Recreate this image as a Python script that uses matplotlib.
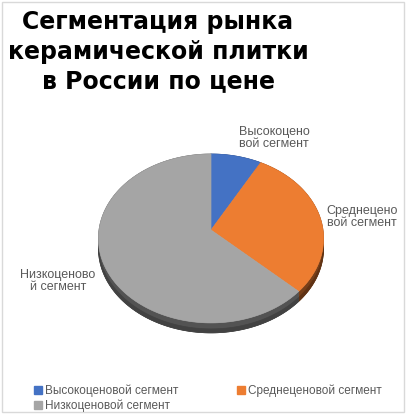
import matplotlib.pyplot as plt
import numpy as np
from matplotlib.patches import Rectangle
from matplotlib.lines import Line2D

title = "Сегментация рынка\nкерамической плитки\nв России по цене"
segments = ["Высокоценовой сегмент", "Среднеценовой сегмент", "Низкоценовой сегмент"]
slice_labels = ["Высокоцено\nвой сегмент", "Среднецено\nвой сегмент", "Низкоценово\nй сегмент"]
shares = [8, 29, 63]
colors = ["#4472c4", "#ed7d31", "#a5a5a5"]

W, H = 409, 418
fig = plt.figure(figsize=(W / 100, H / 100), dpi=100)
ax = fig.add_axes([0, 0, 1, 1])
ax.set_xlim(0, W)
ax.set_ylim(H, 0)
ax.axis("off")

# tilted pie with a bit of perspective (near side looks bigger)
cx, cy = 211, 230
rx, ry = 112, 83.6
k = 0.1
depth = 10


def project(theta):
    u, v = np.cos(theta), np.sin(theta)
    return cx + rx * u / (1 + k * v), cy - ry * v / (1 + k * v)


def shade(c, f):
    rgb = np.array(plt.matplotlib.colors.to_rgb(c))
    return tuple(rgb * f)


fracs = np.array(shares) / sum(shares)
ends = np.pi / 2 - 2 * np.pi * np.cumsum(fracs)
starts = ends + 2 * np.pi * fracs

# side of the disc
for s, e, c in zip(starts, ends, colors):
    th = np.linspace(s, e, 300)
    x, y = project(th)
    for d0, d1, f in [(0, depth, 0.5), (depth * 0.6, depth, 0.4)]:
        ax.fill(np.r_[x, x[::-1]], np.r_[y + d0, y[::-1] + d1],
                color=shade(c, f), lw=0.5, ec=shade(c, f))

# top face
for s, e, c in zip(starts, ends, colors):
    th = np.linspace(s, e, 300)
    x, y = project(th)
    ax.fill(np.r_[cx, x], np.r_[cy, y], color=c, lw=0.5, ec=c)

label_pos = [(274, 138), (362, 217), (58, 281)]
for (lx, ly), t in zip(label_pos, slice_labels):
    ax.text(lx, ly, t, ha="center", va="center", fontsize=9, color="#595959",
            family="Liberation Sans", linespacing=1.1)

ax.text(158, 10, title, ha="center", va="top", fontsize=17, fontweight="bold",
        family="DejaVu Sans", linespacing=1.3)

ax.add_patch(Rectangle((2, 2), 402, 410, fill=False, ec="#d9d9d9", lw=1))

handles = [Line2D([], [], marker="s", ls="", color=c, markersize=5.5) for c in colors]
order = [0, 2, 1]
fig.legend([handles[i] for i in order], [segments[i] for i in order],
           loc="center", bbox_to_anchor=(0.509, 0.047), ncol=2, frameon=False,
           prop={"family": "Liberation Sans", "size": 8.5}, labelcolor="#595959",
           handlelength=0.6, handletextpad=0.3, columnspacing=5.0,
           labelspacing=0.2, borderpad=0)

fig.savefig("out.png", dpi=100)
